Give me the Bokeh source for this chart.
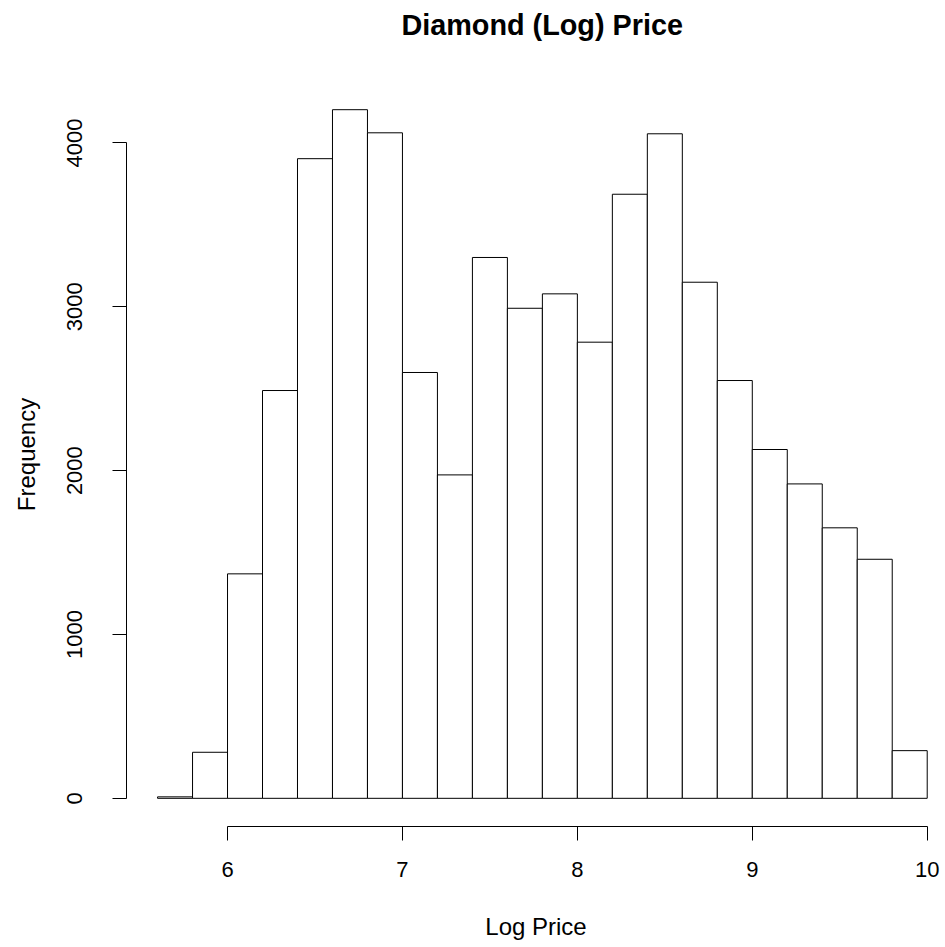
from bokeh.plotting import figure
from bokeh.models import FixedTicker, Range1d, ColumnDataSource, Label
from bokeh.layouts import column
from bokeh.embed import file_html
from bokeh.resources import INLINE

# Histogram data (bin edges and counts)
bin_left = [5.6, 5.8, 6.0, 6.2, 6.4, 6.6, 6.8, 7.0, 7.2, 7.4, 7.6,
            7.8, 8.0, 8.2, 8.4, 8.6, 8.8, 9.0, 9.2, 9.4, 9.6, 9.8]
bin_right = [5.8, 6.0, 6.2, 6.4, 6.6, 6.8, 7.0, 7.2, 7.4, 7.6, 7.8,
             8.0, 8.2, 8.4, 8.6, 8.8, 9.0, 9.2, 9.4, 9.6, 9.8, 10.0]
counts = [9, 281, 1370, 2489, 3904, 4203, 4062, 2599, 1974, 3301, 2991,
          3079, 2784, 3687, 4056, 3150, 2550, 2129, 1919, 1651, 1459, 291]
x_ticks = [6, 7, 8, 9, 10]
y_ticks = [0, 1000, 2000, 3000, 4000]
title_text = "Diamond (Log) Price"
x_label = "Log Price"
y_label = "Frequency"

FONT = "Liberation Sans"
X_LO, X_HI = 5.4225, 10.1046

# ---- title strip (shares the histogram's horizontal geometry) ----
t = figure(width=945, height=82, output_backend="svg", toolbar_location=None,
           x_range=Range1d(X_LO, X_HI), y_range=Range1d(82, 0),
           x_axis_location=None, y_axis_location=None,
           min_border_left=126, min_border_right=0, min_border_top=0,
           min_border_bottom=0)
t.grid.visible = False
t.outline_line_color = None
t.background_fill_color = "white"
t.border_fill_color = "white"
t.add_layout(Label(x=7.799, y=24, text=title_text, text_align="center",
                   text_baseline="middle", text_font=FONT,
                   text_font_size="28.8px", text_font_style="bold",
                   text_color="black"))

# ---- histogram ----
src = ColumnDataSource(dict(left=bin_left, right=bin_right, top=counts,
                            bottom=[0] * len(counts)))

p = figure(width=945, height=865, output_backend="svg", toolbar_location=None,
           x_range=Range1d(X_LO, X_HI), y_range=Range1d(-172, 4369),
           min_border_left=126, min_border_right=0, min_border_top=0,
           min_border_bottom=121)

p.quad(left="left", right="right", top="top", bottom="bottom", source=src,
       fill_color="white", line_color="black", line_width=1)

p.grid.visible = False
p.outline_line_color = None
p.background_fill_color = "white"
p.border_fill_color = "white"

for ax in (p.xaxis[0], p.yaxis[0]):
    ax.axis_line_color = "black"
    ax.axis_line_width = 1
    ax.major_tick_line_color = "black"
    ax.major_tick_in = 0
    ax.major_tick_out = 14
    ax.minor_tick_line_color = None
    ax.major_label_text_font = FONT
    ax.major_label_text_font_size = "22px"
    ax.major_label_text_color = "black"
    ax.axis_label_text_font = FONT
    ax.axis_label_text_font_size = "24px"
    ax.axis_label_text_font_style = "normal"
    ax.axis_label_text_color = "black"

p.xaxis[0].ticker = FixedTicker(ticks=x_ticks)
p.xaxis[0].bounds = (6, 10)
p.xaxis[0].axis_label = x_label
p.xaxis[0].major_label_standoff = 21
p.xaxis[0].axis_label_standoff = 33

p.yaxis[0].ticker = FixedTicker(ticks=y_ticks)
p.yaxis[0].bounds = (0, 4000)
p.yaxis[0].axis_label = y_label
p.yaxis[0].major_label_standoff = 30
p.yaxis[0].axis_label_standoff = 25
p.yaxis[0].major_label_orientation = "vertical"

layout = column(t, p, spacing=0)
open("out.html", "w").write(file_html(layout, INLINE))
